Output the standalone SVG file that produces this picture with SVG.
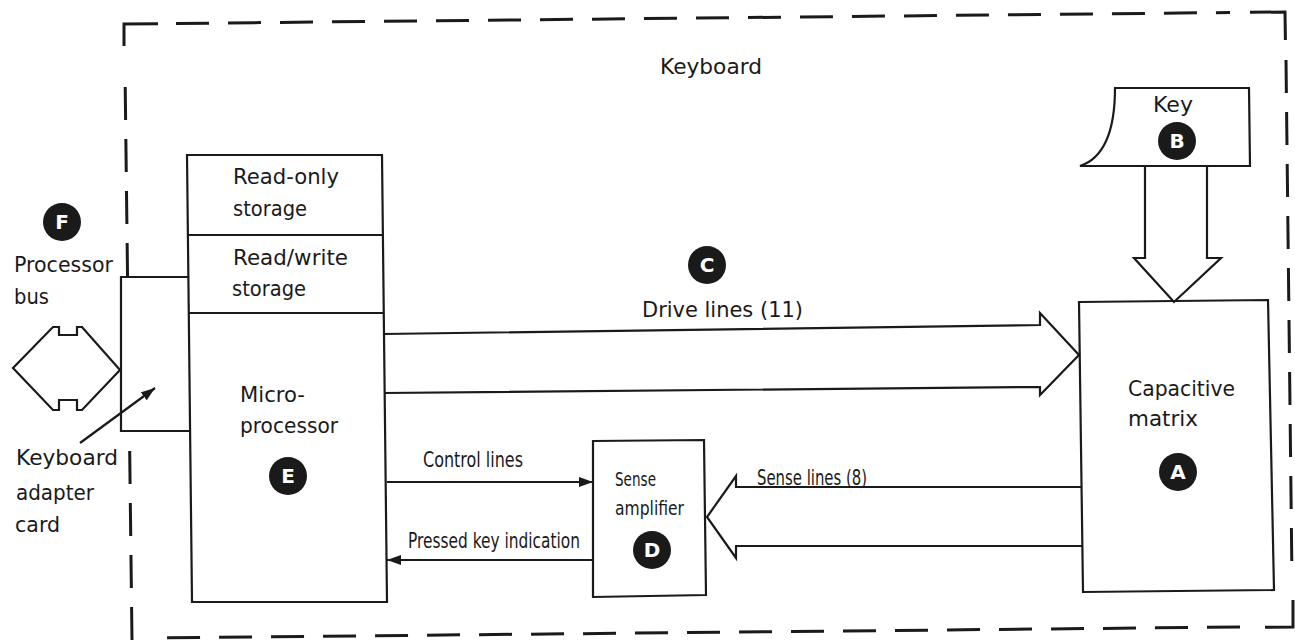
<svg xmlns="http://www.w3.org/2000/svg" width="1295" height="641" viewBox="0 0 1295 641">
<style>
.bg{fill:#fff}
.ln{fill:none;stroke:#1a1a1a;stroke-width:2.2;stroke-linejoin:miter}
.box{fill:#fff;stroke:#1a1a1a;stroke-width:2.2}
.dash{fill:none;stroke:#1a1a1a;stroke-width:3;stroke-dasharray:33 19}
.corner{fill:none;stroke:#1a1a1a;stroke-width:3}
.t{font-family:"DejaVu Sans","Liberation Sans",sans-serif;font-size:21px;fill:#1a1a1a}
.tc{font-family:"DejaVu Sans","Liberation Sans",sans-serif;font-size:21px;fill:#1a1a1a}
.ts{font-family:"DejaVu Sans","Liberation Sans",sans-serif;font-size:19px;fill:#1a1a1a}
.badge{fill:#1a1a1a}
.bl{font-family:"DejaVu Sans","Liberation Sans",sans-serif;font-size:20px;font-weight:bold;fill:#fff;text-anchor:middle}
</style>
<defs>
<marker id="ah" viewBox="0 0 14 10" refX="14" refY="5" markerWidth="14" markerHeight="10" markerUnits="userSpaceOnUse" orient="auto">
<path d="M0,0 L14,5 L0,10 Z" fill="#1a1a1a"/>
</marker>
</defs>
<rect class="bg" x="0" y="0" width="1295" height="641"/>

<g id="keyboard-boundary">
<path class="dash" d="M176,23.5 L1230,12.5"/>
<path class="dash" d="M1286,60 L1292,580"/>
<path class="dash" d="M1240,627 L150,638"/>
<path class="dash" d="M132,640 L125,70"/>
<path class="corner" d="M124,46 L124,24 L158,23.7"/>
<path class="corner" d="M1250,12.3 L1285,12 L1285.4,40"/>
<path class="corner" d="M1293,600 L1293,627 L1265,627.3"/>
<text class="t" x="660" y="74" textLength="102" lengthAdjust="spacingAndGlyphs">Keyboard</text>
</g>

<g id="adapter-card">
<path class="box" d="M190,277 L121,277 L121,431 L190,431"/>
<text class="t" x="16" y="465" textLength="102" lengthAdjust="spacingAndGlyphs">Keyboard</text>
<text class="t" x="16" y="500" textLength="78" lengthAdjust="spacingAndGlyphs">adapter</text>
<text class="t" x="15" y="532" textLength="45" lengthAdjust="spacingAndGlyphs">card</text>
</g>

<g id="processor-bus">
<path class="ln" d="M13,368 L53,327 L59,327 L59,335 L77,335 L77,327 L82,327 L120,370 L82,410 L77,410 L77,400 L59,400 L59,410 L53,410 Z"/>
<circle class="badge" cx="62" cy="222" r="19"/>
<text class="bl" x="62" y="229">F</text>
<text class="t" x="14" y="272" textLength="99" lengthAdjust="spacingAndGlyphs">Processor</text>
<text class="t" x="14" y="304" textLength="35" lengthAdjust="spacingAndGlyphs">bus</text>
</g>

<g id="microprocessor">
<path class="box" d="M187,155 L382,155 L387,602 L192,602 Z"/>
<path class="ln" d="M188,235 L383,235"/>
<path class="ln" d="M189,313 L384,313"/>
<text class="t" x="233" y="184" textLength="106" lengthAdjust="spacingAndGlyphs">Read-only</text>
<text class="t" x="233" y="216" textLength="74" lengthAdjust="spacingAndGlyphs">storage</text>
<text class="t" x="233" y="265" textLength="115" lengthAdjust="spacingAndGlyphs">Read/write</text>
<text class="t" x="232" y="296" textLength="74" lengthAdjust="spacingAndGlyphs">storage</text>
<text class="t" x="240" y="402" textLength="65" lengthAdjust="spacingAndGlyphs">Micro-</text>
<text class="t" x="240" y="433" textLength="98" lengthAdjust="spacingAndGlyphs">processor</text>
<circle class="badge" cx="288" cy="476" r="19"/>
<text class="bl" x="288" y="483">E</text>
</g>

<g id="key">
<path class="box" d="M1080,166 C1104,158 1115,130 1115,88 L1249,88 L1250,166 Z"/>
<text class="t" x="1153" y="112" textLength="40" lengthAdjust="spacingAndGlyphs">Key</text>
<circle class="badge" cx="1177" cy="141" r="19"/>
<text class="bl" x="1177" y="148">B</text>
</g>

<g id="capacitive-matrix">
<path class="box" d="M1079,302 L1268,300 L1274,590 L1083,592 Z"/>
<text class="t" x="1128" y="396" textLength="107" lengthAdjust="spacingAndGlyphs">Capacitive</text>
<text class="t" x="1128" y="426" textLength="70" lengthAdjust="spacingAndGlyphs">matrix</text>
<circle class="badge" cx="1178" cy="472" r="19"/>
<text class="bl" x="1178" y="479">A</text>
</g>

<g id="sense-amplifier">
<path class="box" d="M593,441 L704,440 L706,595 L593,597 Z"/>
<text class="ts" x="615" y="486" textLength="41" lengthAdjust="spacingAndGlyphs">Sense</text>
<text class="ts" x="615" y="515" textLength="69" lengthAdjust="spacingAndGlyphs">amplifier</text>
<circle class="badge" cx="652" cy="550" r="19"/>
<text class="bl" x="652" y="557">D</text>
</g>

<g id="connectors">
<path class="ln" d="M1145,166 L1145,258 L1134,258 L1174,302 L1221,258 L1207,258 L1207,166"/>
<path class="ln" d="M383,334 L1040,325 L1040,313 L1079,355 L1040,395 L1040,387 L384,393"/>
<path class="ln" d="M1081,487 L736,487 L736,476 L707,517 L736,558 L736,546 L1082,546"/>
<path class="ln" d="M387,482 L593,482" marker-end="url(#ah)"/>
<path class="ln" d="M593,560 L387,560" marker-end="url(#ah)"/>
<path class="ln" d="M80,443 L155,388" marker-end="url(#ah)"/>
<circle class="badge" cx="707" cy="265" r="19"/>
<text class="bl" x="707" y="272">C</text>
<text class="t" x="642" y="317" textLength="161" lengthAdjust="spacingAndGlyphs">Drive lines (11)</text>
<text class="tc" x="423" y="467" textLength="100" lengthAdjust="spacingAndGlyphs">Control lines</text>
<text class="tc" x="408" y="548" textLength="172" lengthAdjust="spacingAndGlyphs">Pressed key indication</text>
<text class="tc" x="757" y="485" textLength="110" lengthAdjust="spacingAndGlyphs">Sense lines (8)</text>
</g>
</svg>
